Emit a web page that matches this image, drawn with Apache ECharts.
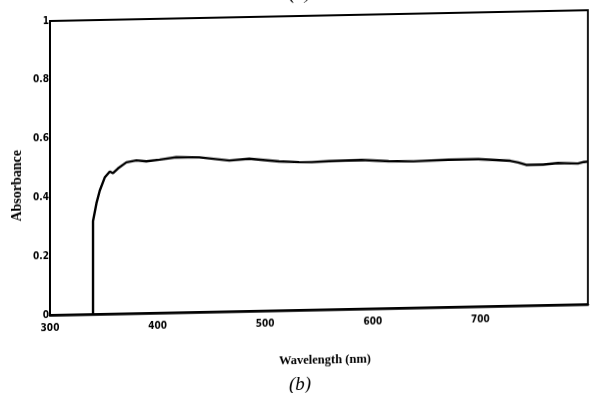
<!DOCTYPE html>
<html>
<head>
<meta charset="utf-8">
<script src="https://cdn.jsdelivr.net/npm/echarts@6/dist/echarts.min.js"></script>
<style>
  html, body { margin: 0; padding: 0; background: #fff; overflow: hidden; }
  #chart { width: 592px; height: 398px; transform: skewY(-1.15deg); transform-origin: 50px 0; }
</style>
</head>
<body>
<div id="chart"></div>
<script>
// Absorption spectrum: wavelength (nm) vs absorbance
const wavelength = [340, 340, 341, 343.2, 346.3, 350.9, 355.6, 358.6, 363.2, 371, 380.3, 389.5,
  401.9, 417.3, 438.9, 466.7, 485.2, 513, 531.5, 543.5, 559.3, 589.8, 614.8, 638, 670.4,
  698.1, 727.8, 735.2, 742.6, 758.3, 772.2, 790.7, 796.3, 800];
const absorbance = [0, 0.316, 0.321, 0.377, 0.420, 0.464, 0.484, 0.478, 0.494, 0.514, 0.520, 0.516,
  0.521, 0.528, 0.526, 0.513, 0.518, 0.507, 0.503, 0.502, 0.504, 0.506, 0.500, 0.498, 0.501,
  0.501, 0.493, 0.487, 0.478, 0.478, 0.482, 0.479, 0.484, 0.485];

const xTicks = [300, 400, 500, 600, 700];
const yTicks = [0, 0.2, 0.4, 0.6, 0.8, 1];

const xTitle = 'Wavelength (nm)';
const yTitle = 'Absorbance';
const topCaption = '(a)';
const bottomCaption = '(b)';

const tickFont = {
  fontFamily: '"DejaVu Sans Condensed", "Liberation Sans Narrow", "Liberation Sans", sans-serif',
  fontWeight: 'bold',
  fontSize: 10,
  color: '#000'
};

const points = wavelength.map((w, i) => [w, absorbance[i]]);

const chart = echarts.init(document.getElementById('chart'), null, { renderer: 'canvas' });
chart.setOption({
  animation: false,
  backgroundColor: '#fff',
  grid: {
    left: 50, right: 4, top: 21, bottom: 83,
    show: true, borderColor: '#000', borderWidth: 1.8, backgroundColor: 'transparent'
  },
  xAxis: {
    type: 'value',
    min: 300, max: 800, interval: 100,
    axisLine: { show: true, onZero: false, lineStyle: { color: '#000', width: 2.5 } },
    axisTick: { show: false },
    splitLine: { show: false },
    axisLabel: Object.assign({
      margin: 8,
      showMaxLabel: false,
      formatter: v => (xTicks.indexOf(v) >= 0 ? String(v) : '')
    }, tickFont)
  },
  yAxis: {
    type: 'value',
    min: 0, max: 1, interval: 0.2,
    axisLine: { show: true, lineStyle: { color: '#000', width: 2 } },
    axisTick: { show: false },
    splitLine: { show: false },
    axisLabel: Object.assign({
      margin: 1,
      formatter: v => {
        const t = yTicks.find(k => Math.abs(k - v) < 1e-9);
        return t === undefined ? '' : String(t);
      }
    }, tickFont)
  },
  series: [{
    type: 'line',
    data: points,
    showSymbol: false,
    smooth: false,
    lineStyle: { color: '#000', width: 2.4 },
    z: 5
  }],
  graphic: [
    {
      type: 'text', x: 325, y: 366, z: 10,
      style: {
        text: xTitle, fill: '#000',
        font: 'bold 12.5px "Liberation Serif", "Times New Roman", serif',
        align: 'center', verticalAlign: 'middle'
      }
    },
    {
      type: 'text', x: 17, y: 185, rotation: Math.PI / 2, z: 10,
      style: {
        text: yTitle, fill: '#000',
        font: 'bold 14px "Liberation Serif", "Times New Roman", serif',
        align: 'center', verticalAlign: 'middle'
      }
    },
    {
      type: 'text', x: 300, y: 390, z: 10,
      style: {
        text: bottomCaption, fill: '#000',
        font: 'italic 19px "Liberation Serif", "Times New Roman", serif',
        align: 'center', verticalAlign: 'middle'
      }
    },
    {
      type: 'text', x: 300, y: 8, z: 10,
      style: {
        text: topCaption, fill: '#000',
        font: 'italic 19px "Liberation Serif", "Times New Roman", serif',
        align: 'center', verticalAlign: 'bottom'
      }
    }
  ]
});
</script>
</body>
</html>
